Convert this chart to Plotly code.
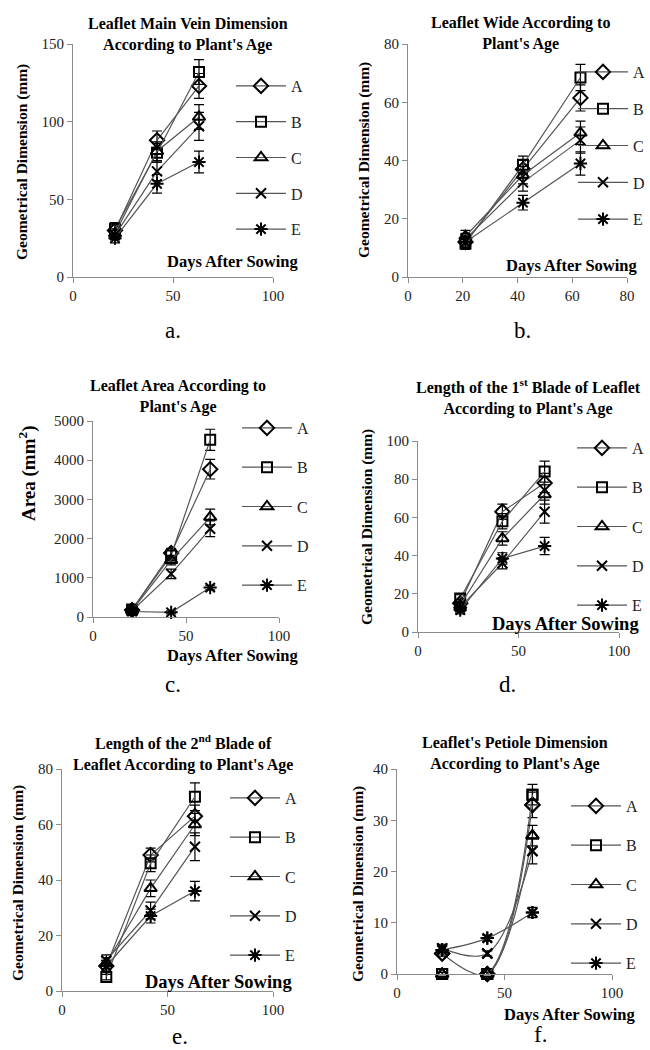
import plotly.graph_objects as go

# ---------------- data ----------------
days = [21, 42, 63]
series_names = ["A", "B", "C", "D", "E"]

vein_values = [[30, 88, 123], [31, 80, 132], [28, 81, 103], [27, 68, 97], [25, 60, 74]]
vein_errors = [[4, 6, 8], [4, 6, 8], [3, 6, 8], [3, 6, 9], [3, 6, 7]]

wide_values = [[12, 37, 61.5], [11.5, 38.5, 68.5], [14, 35, 49.5], [13, 32.5, 47], [12, 25.5, 39]]
wide_errors = [[2, 3, 4.5], [2, 3, 4.5], [2, 3, 4], [2, 3, 4.5], [2, 2.5, 4]]

area_values = [[180, 1630, 3770], [190, 1570, 4520], [170, 1450, 2550], [160, 1100, 2250], [140, 120, 750]]
area_errors = [[60, 120, 250], [60, 130, 270], [50, 120, 200], [50, 120, 200], [40, 40, 60]]

blade1_values = [[15, 63, 78], [17.5, 58, 84], [14, 49, 72], [13, 36, 63], [11.5, 38.5, 45]]
blade1_errors = [[2, 4, 5], [2, 4, 5.5], [2, 3.5, 5], [2, 3, 6], [2, 3, 4.5]]

blade2_values = [[9, 49, 63], [5, 46, 70], [10, 37, 60], [11, 29, 52], [9, 27, 36]]
blade2_errors = [[2, 2.5, 4], [1, 3, 5], [2, 3, 4], [2, 3, 5], [2, 2.5, 3.5]]

petiole_values = [[4, 0, 33], [0, 0, 35], [0, 0, 27], [5, 4, 24], [4.7, 7, 12]]
petiole_errors = [[0.5, 0.3, 2.5], [0.3, 0.3, 2], [0.3, 0.3, 2], [0.8, 0.5, 2.5], [0.8, 0.6, 1]]

titles = [
    "Leaflet Main Vein Dimension<br>According to Plant's Age",
    "Leaflet Wide According to<br>Plant's Age",
    "Leaflet Area According to<br>Plant's Age",
    "Length of the 1<sup>st</sup> Blade of Leaflet<br>According to Plant's Age",
    "Length of the 2<sup>nd</sup> Blade of<br>Leaflet According to Plant's Age",
    "Leaflet's Petiole Dimension<br>According to Plant's Age",
]
y_titles = ["Geometrical Dimension (mm)", "Geometrical Dimension (mm)", "Area (mm<sup>2</sup>)",
            "Geometrical Dimension (mm)", "Geometrical Dimension (mm)", "Geometrical Dimension (mm)"]
panel_labels = ["a.", "b.", "c.", "d.", "e.", "f."]
x_ranges = [[0, 100], [0, 80], [0, 100], [0, 100], [0, 100], [0, 100]]
x_dticks = [50, 20, 50, 50, 50, 50]
y_ranges = [[0, 150], [0, 80], [0, 5000], [0, 100], [0, 80], [0, 40]]
y_dticks = [50, 20, 1000, 20, 20, 10]

all_values = [vein_values, wide_values, area_values, blade1_values, blade2_values, petiole_values]
all_errors = [vein_errors, wide_errors, area_errors, blade1_errors, blade2_errors, petiole_errors]

# ---------------- layout (pixel geometry) ----------------
W, H = 650, 1050
def px(x):
    return x / W
def py(y):
    return 1 - y / H

# plot boxes: (left, right, top, bottom) in px
boxes = [(73, 273, 44, 277), (408, 627, 44, 277),
         (93, 279, 421, 617), (418, 619, 441, 632),
         (62, 273, 769, 991), (397, 612, 769, 974)]
title_pos = [(188, 34), (520, 33), (178, 397), (528, 397), (183, 753), (515, 753)]
title_size = [16, 16, 16, 16, 16, 16]
ytitle_pos = [(22, 162), (364, 160), (28, 474), (367, 527), (18, 883), (358, 884)]
ytitle_size = [15.5, 15.5, 19, 15.5, 15.5, 15.5]
days_pos = [(233, 262), (572, 265), (233, 655), (565, 624), (218, 982), (570, 1014)]
days_size = [16.5, 16.5, 16.5, 18.5, 18.5, 16.5]
label_pos = [(173, 330), (522, 330), (173, 684), (507, 684), (180, 1036), (540, 1034)]
legend_pos = [(231, 69), (573, 55), (237, 411), (572, 431), (225, 781), (566, 789)]
legend_gap = [12, 13, 15.5, 15.5, 15.5, 15.5]

symbols = ["diamond-open", "square-open", "triangle-up-open", "x-thin-open", "asterisk-open"]
msizes = [11, 10, 11, 10, 11]

serif = "Liberation Serif"
fig = go.Figure()

for p in range(6):
    ax = "" if p == 0 else str(p + 1)
    leg = "legend" if p == 0 else "legend" + str(p + 1)
    smooth = (p == 5)
    for s in range(5):
        marker = dict(symbol=symbols[s], size=msizes[s], color="black",
                      line=dict(color="black", width=2))
        err = dict(type="data", array=all_errors[p][s], color="black", thickness=1.2, width=5)
        fig.add_trace(go.Scatter(
            x=days, y=all_values[p][s],
            error_y=err,
            mode="lines+markers",
            name=series_names[s],
            line=dict(color="#555555", width=1.2, shape="spline" if smooth else "linear"),
            marker=marker,
            xaxis="x" + ax, yaxis="y" + ax,
            legend=leg, legendgroup=f"{p}_{s}",
            cliponaxis=not smooth,
        ))
        if smooth:
            # unclipped copy of the markers so points sitting on the axis stay whole
            fig.add_trace(go.Scatter(
                x=days, y=all_values[p][s], mode="markers", marker=marker,
                xaxis="x" + ax, yaxis="y" + ax, showlegend=False,
                cliponaxis=False, hoverinfo="skip",
            ))
for tr in fig.data:
    if tr.xaxis != "x6":
        tr.cliponaxis = False

layout = dict(
    width=W, height=H, margin=dict(l=0, r=0, t=0, b=0, autoexpand=False),
    paper_bgcolor="white", plot_bgcolor="white",
    font=dict(family=serif, color="#222222"),
    annotations=[],
)

for p in range(6):
    ax = "" if p == 0 else str(p + 1)
    l, r, t, b = boxes[p]
    axis_common = dict(showline=True, linecolor="#8c8c8c", linewidth=1, ticks="outside",
                       ticklen=5, tickcolor="#8c8c8c", showgrid=False, zeroline=False,
                       tickfont=dict(family=serif, size=15, color="#222222"))
    layout["xaxis" + ax] = dict(domain=[px(l), px(r)], range=x_ranges[p], dtick=x_dticks[p],
                                tick0=0, anchor="y" + ax, automargin=False, **axis_common)
    layout["yaxis" + ax] = dict(domain=[py(b), py(t)], range=y_ranges[p], dtick=y_dticks[p],
                                tick0=0, anchor="x" + ax, automargin=False, **axis_common)
    leg = "legend" if p == 0 else "legend" + str(p + 1)
    lx, ly = legend_pos[p]
    layout[leg] = dict(x=px(lx), y=py(ly), xanchor="left", yanchor="top",
                       font=dict(family=serif, size=16, color="#222222"),
                       itemwidth=50, tracegroupgap=legend_gap[p], traceorder="grouped",
                       bgcolor="rgba(0,0,0,0)")
    common = dict(xref="paper", yref="paper", showarrow=False, xanchor="center", yanchor="middle")
    tx, ty = title_pos[p]
    layout["annotations"].append(dict(text="<b>" + titles[p] + "</b>", x=px(tx), y=py(ty),
                                      font=dict(family=serif, size=title_size[p], color="black"),
                                      **common))
    yx, yy = ytitle_pos[p]
    layout["annotations"].append(dict(text="<b>" + y_titles[p] + "</b>", x=px(yx), y=py(yy),
                                      textangle=-90,
                                      font=dict(family=serif, size=ytitle_size[p], color="black"),
                                      **common))
    dx, dy = days_pos[p]
    layout["annotations"].append(dict(text="<b>Days After Sowing</b>", x=px(dx), y=py(dy),
                                      font=dict(family=serif, size=days_size[p], color="black"),
                                      **common))
    bx, by = label_pos[p]
    layout["annotations"].append(dict(text=panel_labels[p], x=px(bx), y=py(by),
                                      font=dict(family=serif, size=23, color="black"),
                                      **common))

fig.update_layout(**layout)
fig.write_html("out.html", config={"displayModeBar": False},
               post_script="document.body.style.margin='0';document.body.style.overflow='hidden';")
